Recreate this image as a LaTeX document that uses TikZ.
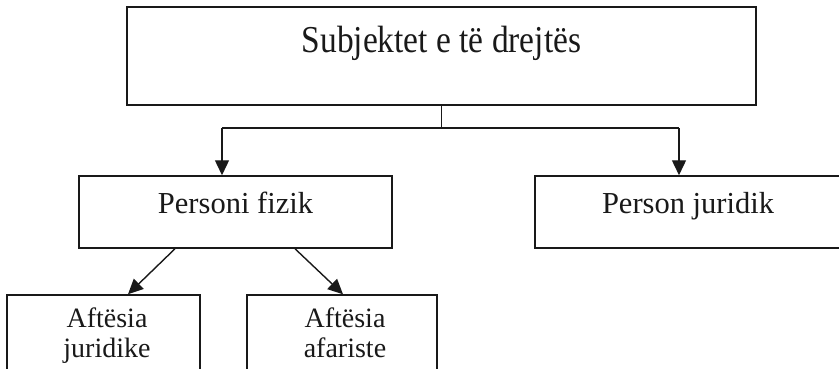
\documentclass[tikz,border=0pt]{standalone}
\usepackage{fontspec}
\setmainfont{Liberation Serif}
\newfontfamily\titlefont[FakeStretch=0.88]{Liberation Serif}
\usetikzlibrary{arrows.meta,calc}

\tikzset{
  box/.style={draw, line width=1.5pt, rectangle, inner sep=0pt},
  link/.style={line width=1.4pt},
  arrow/.style={link, -{Triangle[length=15pt,width=14pt]}},
  bigtext/.style={font=\titlefont\fontsize{38}{42}\selectfont},
  midtext/.style={font=\fontsize{30.5}{36}\selectfont, text height=10pt, text depth=7pt},
  smalltext/.style={font=\fontsize{28}{30}\selectfont, align=center, inner sep=0pt, anchor=north},
}

\begin{document}
\begin{tikzpicture}[x=1pt,y=1pt,color={black!90}]
  \useasboundingbox (0,0) rectangle (839,368);
  \clip (0,0) rectangle (839,368);

  % root box and its title
  \node[box, minimum width=629pt, minimum height=98pt] (top) at (441.5,312) {};
  \node[bigtext, anchor=base] (toptext) at (441.5,316) {Subjektet e të drejtës};

  % second level
  \node[box, minimum width=313pt, minimum height=72pt, midtext] (pf) at (235.5,156) {Personi fizik};
  \node[box, minimum width=313pt, minimum height=72pt, midtext] (pj) at (691.5,156) {\hspace*{-7pt}Person juridik};

  % third level
  \node[box, minimum width=193pt, minimum height=90pt] (aj) at (103.5,28) {};
  \node[smalltext] (ajtext) at (107,60) {Aftësia\\juridike};
  \node[box, minimum width=190pt, minimum height=90pt] (aa) at (342,28) {};
  \node[smalltext] (aatext) at (345,60) {Aftësia\\afariste};

  % branch from the root
  \coordinate (jl) at (222,240);
  \coordinate (jr) at (679,240);
  \draw[link] (top.south) -- (top.south |- jl);
  \draw[link] (jl) -- (jr);
  \draw[arrow] (jl) -- (jl |- pf.north);
  \draw[arrow] (jr) -- (jr |- pj.north);

  % diagonal arrows to the capacities
  \draw[arrow] ($(pf.south)+(-60.5,0)$) -- ($(aj.north)+(24.5,0)$);
  \draw[arrow] ($(pf.south)+(59.5,0)$) -- ($(aa.north)+(1,0)$);
\end{tikzpicture}
\end{document}
